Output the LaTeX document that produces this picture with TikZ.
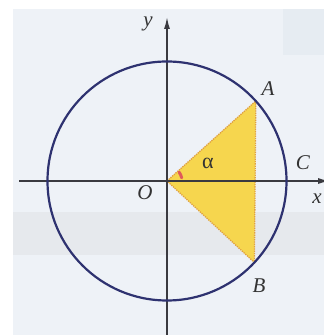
\documentclass[tikz,border=0pt]{standalone}
\usepackage{fontspec}
\setmainfont{Liberation Serif}
\usetikzlibrary{arrows.meta,calc}
\definecolor{bgblue}{HTML}{EEF2F7}
\definecolor{bandgray}{HTML}{E6E9ED}
\definecolor{boxblue}{HTML}{E6ECF2}
\definecolor{circnavy}{HTML}{2E3270}
\definecolor{axisgray}{HTML}{3A3A40}
\definecolor{triyellow}{HTML}{F6D64E}
\definecolor{triedge}{HTML}{E0A040}
\definecolor{anglered}{HTML}{E05A5A}
\tikzset{
  lbl/.style={font=\fontsize{21}{24}\selectfont\itshape, text=black!80, inner sep=0pt},
  axisline/.style={draw=axisgray, line width=1.5pt, -{Latex[length=12pt,width=6pt]}},
  unitcircle/.style={draw=circnavy, line width=2.2pt},
  tri/.style={fill=triyellow, draw=triedge, densely dotted, line width=1.3pt}
}
\begin{document}
\begin{tikzpicture}[x=1pt,y=1pt]
\useasboundingbox (0,0) rectangle (324,335);
\clip (0,0) rectangle (324,335);
% background
\fill[white] (0,0) rectangle (324,335);
\fill[bgblue] (13,0) rectangle (324,326);
\fill[bandgray] (13,80) rectangle (324,123);
\fill[boxblue] (283,280) rectangle (324,326);
% geometry
\coordinate (O) at (167,154);
\path (O) ++(42:119.5) coordinate (A);
\path (O) ++(-43:119.5) coordinate (B);
\path (O) ++(0:119.5) coordinate (C);
\coordinate (xs) at (19,154);
\coordinate (xe) at (330,154);
\coordinate (ys) at (167,-2);
\coordinate (ye) at (167,318);
% triangle
\path[tri] (O) -- (A) -- (B) -- cycle;
% axes
\draw[axisline] (xs) -- (xe);
\draw[axisline] (ys) -- (ye);
% circle
\draw[unitcircle] (O) circle (119.5);
% angle mark
\draw[anglered, line width=3pt, line cap=round] ($(O)+(12:15)$) arc (12:36:15);
% labels
\node[lbl] (lA) at (268,246) {A};
\node[lbl] (lB) at (259,49) {B};
\node[lbl] (lC) at (303,172) {C};
\node[lbl] (lO) at (145,142) {O};
\node[lbl] (lx) at (317,136) {x};
\node[lbl] (ly) at (148,311) {y};
\node[font=\fontsize{22}{24}\selectfont, text=black!80, inner sep=0pt] (alpha) at (208,172) {α};
\end{tikzpicture}
\end{document}
